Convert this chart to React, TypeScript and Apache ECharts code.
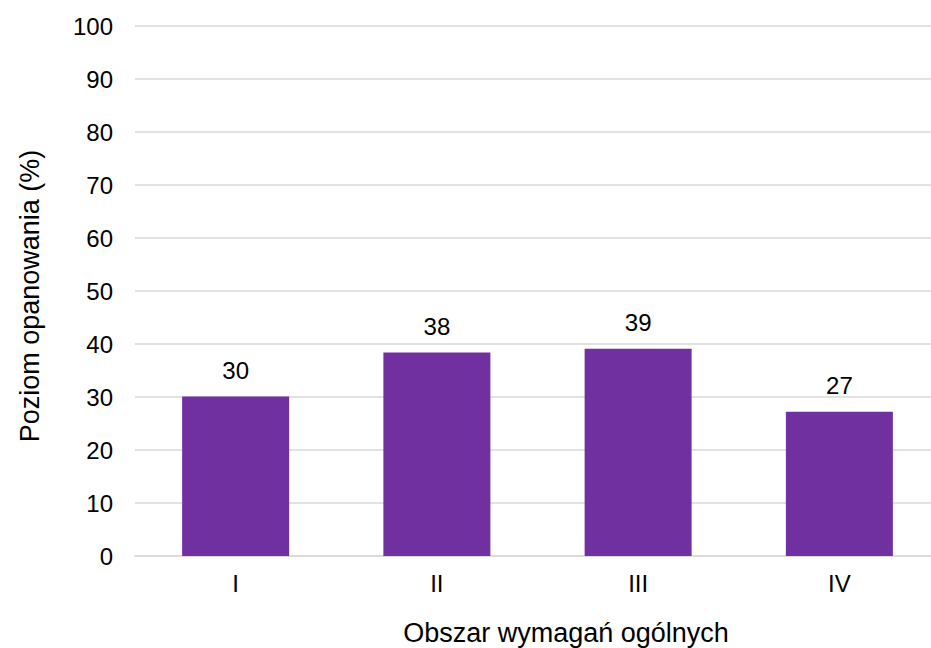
import React, { useEffect, useRef } from "react";
import * as echarts from "echarts";

const categories = ["I", "II", "III", "IV"];
const values = [30.1, 38.4, 39.1, 27.2];
const yTicks = { min: 0, max: 100, interval: 10 };
const xTitle = "Obszar wymagań ogólnych";
const yTitle = "Poziom opanowania (%)";

const FONT = "'Liberation Sans', Arial, sans-serif";

export default function App() {
  const ref = useRef<HTMLDivElement>(null);
  useEffect(() => {
    if (!ref.current) return;
    const chart = echarts.init(ref.current, undefined, { renderer: "svg" });
    chart.setOption({
      animation: false,
      backgroundColor: "#ffffff",
      textStyle: { fontFamily: FONT },
      grid: { left: 135, top: 26, width: 805, height: 530, containLabel: false },
      xAxis: {
        type: "category",
        data: categories,
        axisLine: { show: true, lineStyle: { color: "#D9D9D9", width: 1.5 } },
        axisTick: { show: false },
        axisLabel: { color: "#000", fontSize: 24, fontFamily: FONT, margin: 15 },
      },
      yAxis: {
        type: "value",
        min: yTicks.min,
        max: yTicks.max,
        interval: yTicks.interval,
        axisLine: { show: false },
        axisTick: { show: false },
        axisLabel: { color: "#000", fontSize: 24, fontFamily: FONT, margin: 22 },
        splitLine: { lineStyle: { color: "#D9D9D9", width: 1.5 } },
      },
      graphic: [
        {
          type: "text",
          x: 566,
          y: 633,
          style: {
            text: xTitle,
            fill: "#000",
            font: `27px ${FONT}`,
            align: "center",
            verticalAlign: "middle",
          },
        },
        {
          type: "text",
          x: 30,
          y: 296,
          rotation: Math.PI / 2,
          style: {
            text: yTitle,
            fill: "#000",
            font: `27px ${FONT}`,
            align: "center",
            verticalAlign: "middle",
          },
        },
      ],
      series: [
        {
          type: "bar",
          data: values,
          barWidth: 107,
          itemStyle: { color: "#7030A0" },
          label: {
            show: true,
            position: "top",
            distance: 14,
            color: "#000",
            fontSize: 24,
            fontFamily: FONT,
            formatter: (p: any) => String(Math.round(p.value)),
          },
        },
      ],
    });
    return () => chart.dispose();
  }, []);
  return (
    <div
      ref={ref}
      style={{ position: "fixed", left: 0, top: 0, width: 950, height: 648 }}
    />
  );
}
